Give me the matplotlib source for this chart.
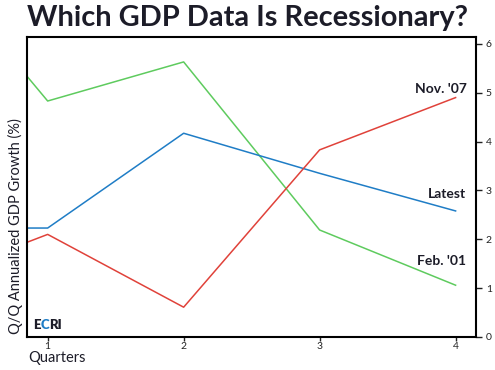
import matplotlib
matplotlib.use('Agg')
from matplotlib import pyplot as plt
from matplotlib.transforms import offset_copy

# data (left edge point is where the lines enter the box)
quarters = [0.85, 1, 2, 3, 4]
nov07 = [1.94, 2.10, 0.61, 3.83, 4.90]
latest = [2.23, 2.23, 4.17, 3.35, 2.58]
feb01 = [5.33, 4.83, 5.63, 2.19, 1.06]
series_labels = ["Nov. '07", "Latest", "Feb. '01"]
label_y = [4.99, 2.84, 1.47]
xticks = [1, 2, 3, 4]
yticks = [0, 1, 2, 3, 4, 5, 6]

plt.rcParams['font.family'] = ['Lato', 'DejaVu Sans']
W, H = 495, 370
fig = plt.figure(figsize=(W / 100, H / 100), dpi=100)
ax = fig.add_axes([27 / W, 1 - 337 / H, (476 - 27) / W, (337 - 37) / H])

ax.plot(quarters, feb01, color='#5ecb5e', lw=1.1)
ax.plot(quarters, latest, color='#1f7dc6', lw=1.1)
ax.plot(quarters, nov07, color='#e0423a', lw=1.1)

ax.set_xlim(0.848, 4.15)
ax.set_ylim(0, 6.14)
ax.set_xticks(xticks)
ax.set_yticks(yticks)
ax.yaxis.tick_right()
ax.tick_params(axis='both', labelsize=7.5, width=1, colors='#222222')
ax.tick_params(axis='x', length=3, pad=0.5)
ax.tick_params(axis='y', length=4, pad=3)
for s in ax.spines.values():
    s.set_linewidth(1.5)
    s.set_color('black')

txt = '#1c1c28'
for lab, y in zip(series_labels, label_y):
    ax.text(4.08, y, lab, ha='right', va='baseline', fontsize=10, fontweight='bold', color=txt)

# ECRI logo text, pieces placed one after another
fig.canvas.draw()
r = fig.canvas.get_renderer()
xpos = 0
for piece, col in [('E', txt), ('C', '#1f7dc6'), ('RI', txt)]:
    t = ax.text(0.89, 0.13, piece, fontsize=9.5, fontweight='heavy', color=col, va='bottom',
                transform=offset_copy(ax.transData, fig=fig, x=xpos, units='dots'))
    xpos += t.get_window_extent(r).width

fig.text(27 / W, 1 - 5 / H, 'Which GDP Data Is Recessionary?', ha='left', va='top',
         fontsize=20.9, fontweight='bold', color=txt)
fig.text(28 / W, 1 - 351 / H, 'Quarters', ha='left', va='top', fontsize=10.5, color=txt)
fig.text(15 / W, 1 - 334 / H, 'Q/Q Annualized GDP Growth (%)', rotation=90,
         ha='center', va='bottom', fontsize=10.5, color=txt)

fig.savefig('out.png', dpi=100)
